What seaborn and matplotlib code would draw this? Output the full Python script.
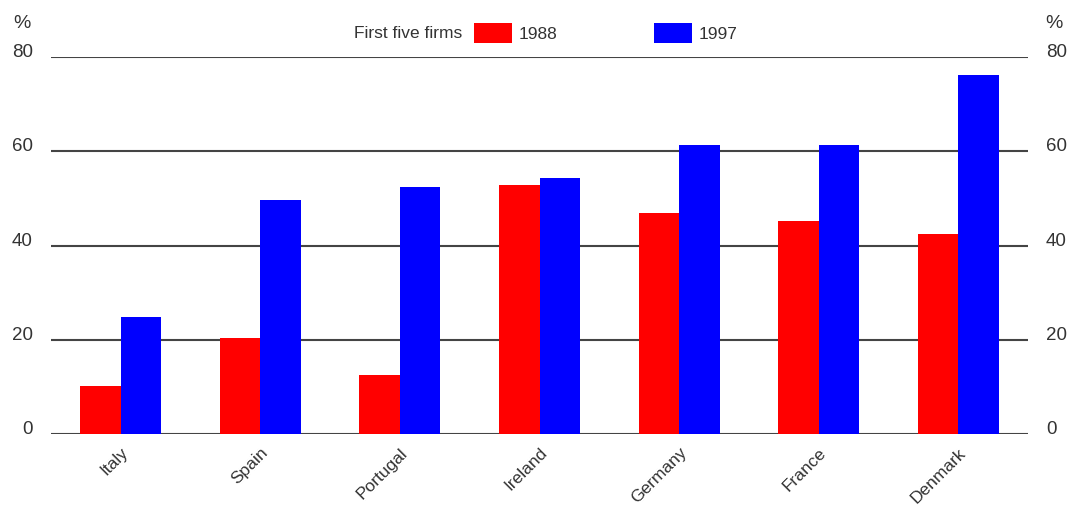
import matplotlib
matplotlib.use("Agg")
import matplotlib.pyplot as plt
import seaborn as sns
import pandas as pd

countries = ["Italy", "Spain", "Portugal", "Ireland", "Germany", "France", "Denmark"]
share_1988 = [10.2, 20.4, 12.5, 52.9, 46.9, 45.2, 42.5]
share_1997 = [24.8, 49.7, 52.4, 54.4, 61.4, 61.4, 76.2]
years = ["1988", "1997"]
yticks = [0, 20, 40, 60, 80]

df = pd.DataFrame({
    "country": countries * 2,
    "year": [years[0]] * len(countries) + [years[1]] * len(countries),
    "share": share_1988 + share_1997,
})

sns.set_style("white")
plt.rcParams["font.family"] = ["Liberation Sans", "DejaVu Sans"]

fig = plt.figure(figsize=(10.7, 5.08), dpi=100)
ax = fig.add_axes([51 / 1070, 1 - 434 / 508, (1028 - 51) / 1070, (434 - 57) / 508])

for y in yticks:
    ax.axhline(y, color="#444444", lw=1.5, zorder=0)

sns.barplot(data=df, x="country", y="share", hue="year", hue_order=years,
            palette={"1988": "#FF0000", "1997": "#0000FF"}, width=0.58,
            saturation=1, edgecolor="none", ax=ax, zorder=2, legend=True)

ax.set_xlim(-0.5, len(countries) - 0.5)
ax.set_ylim(0, 80)
ax.set_yticks(yticks)
ax.set_xlabel("")
ax.set_ylabel("")
for s in ax.spines.values():
    s.set_visible(False)

ax.tick_params(axis="y", length=0, labelleft=True, labelright=True, labelsize=13.5,
               labelcolor="#333333")
ax.tick_params(axis="y", which="major", pad=13)
for t in ax.yaxis.get_major_ticks():
    t.label1.set_va("baseline")
    t.label2.set_va("baseline")
ax.tick_params(axis="x", length=0, labelsize=12.5, labelcolor="#333333", pad=8)
for lbl in ax.get_xticklabels():
    lbl.set_rotation(45)
    lbl.set_ha("right")
    lbl.set_va("top")
    lbl.set_rotation_mode("anchor")

handles, labels = ax.get_legend_handles_labels()
ax.get_legend().remove()
fig.legend(handles, labels, ncol=2, loc="center left",
           bbox_to_anchor=(474 / 1070, 1 - 33 / 508), frameon=False,
           borderpad=0, borderaxespad=0, handlelength=2.2, handleheight=1.35,
           handletextpad=0.35, columnspacing=5.6, fontsize=12.5,
           labelcolor="#333333")
fig.text(462 / 1070, 1 - 33 / 508, "First five firms", ha="right", va="center",
         fontsize=12.5, color="#333333")

fig.text(22 / 1070, 1 - 23 / 508, "%", ha="center", va="center", fontsize=14, color="#333333")
fig.text(1054 / 1070, 1 - 23 / 508, "%", ha="center", va="center", fontsize=14, color="#333333")

fig.savefig("out.png", dpi=100)
